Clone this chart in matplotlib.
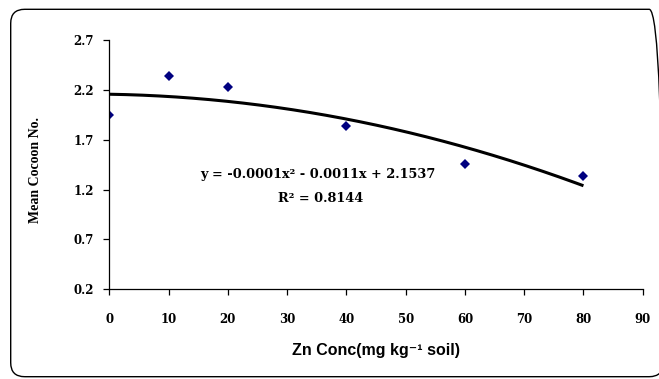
import numpy as np
import matplotlib
matplotlib.use("Agg")
import matplotlib.pyplot as plt
from matplotlib.patches import FancyBboxPatch
from matplotlib.transforms import IdentityTransform

# data
zn_conc = [0, 10, 20, 40, 60, 80]
mean_cocoon = [1.945, 2.342, 2.225, 1.837, 1.456, 1.339]
x_ticks = [0, 10, 20, 30, 40, 50, 60, 70, 80, 90]
y_ticks = [0.2, 0.7, 1.2, 1.7, 2.2, 2.7]
eq_text = "y = -0.0001x² - 0.0011x + 2.1537"
r2_text = "R² = 0.8144"

fig = plt.figure(figsize=(6.59, 3.79), dpi=100)
ax = fig.add_axes([0.1659, 0.2367, 0.8094, 0.6578])

# polynomial trendline (order 2) from the points
coef = np.polyfit(zn_conc, mean_cocoon, 2)
xs = np.linspace(0, 80, 200)
ax.plot(xs, np.polyval(coef, xs), color="black", lw=2.2, solid_capstyle="butt")
ax.plot(zn_conc, mean_cocoon, linestyle="none", marker="D", markersize=5,
        color="#000080", markeredgewidth=0)

ax.set_xlim(0, 90)
ax.set_ylim(0.2, 2.7)
ax.set_xticks(x_ticks)
ax.set_yticks(y_ticks)
ax.set_xticklabels([str(t) for t in x_ticks])
ax.set_yticklabels([f"{t:.1f}" for t in y_ticks])
for s in ["top", "right"]:
    ax.spines[s].set_visible(False)
for s in ["left", "bottom"]:
    ax.spines[s].set_linewidth(0.9)
ax.tick_params(axis="x", direction="out", length=4, width=0.9, pad=13)
ax.tick_params(axis="y", direction="out", length=4, width=0.9, pad=7)
for lab in ax.get_xticklabels() + ax.get_yticklabels():
    lab.set_family("DejaVu Serif")
    lab.set_fontweight("bold")
    lab.set_fontsize(8.5)

ax.set_xlabel("Zn Conc(mg kg⁻¹ soil)", family=["Liberation Sans", "DejaVu Sans"],
              fontweight="bold", fontsize=11.5, labelpad=12)
ax.set_ylabel("Mean Cocoon No.", family="Liberation Serif", fontweight="bold", fontsize=10)
ax.yaxis.set_label_coords(-0.126, 0.478)

ax.text(35.2, 1.35, eq_text, family="DejaVu Serif", fontweight="bold", fontsize=9.3,
        ha="center", va="center")
ax.text(35.7, 1.115, r2_text, family="DejaVu Serif", fontweight="bold", fontsize=9.3,
        ha="center", va="center")

# rounded frame around the chart area
frame = FancyBboxPatch((10.7, 2.3), 652.5, 367.4, boxstyle="round,pad=0,rounding_size=14",
                       transform=IdentityTransform(), fill=False, edgecolor="black",
                       linewidth=1.0)
fig.patches.append(frame)

fig.savefig("out.png", dpi=100)
